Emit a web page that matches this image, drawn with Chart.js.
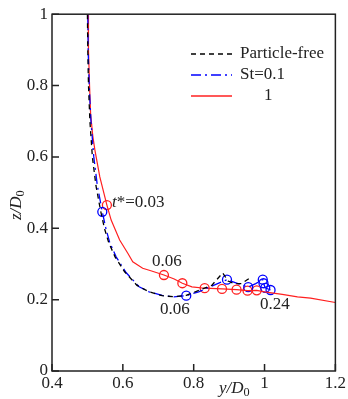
<!DOCTYPE html>
<html>
<head>
  <meta charset="UTF-8">
  <title>Trajectory</title>
  <style>
    body { margin: 0; padding: 0; background: white; }
    .chart-container { position: relative; width: 348px; height: 399px; }
  </style>
  <script src="https://cdn.jsdelivr.net/npm/chart.js"></script>
</head>
<body>
  <div class="chart-container">
    <canvas id="trajChart" width="348" height="399"></canvas>
  </div>
  <script>
    // particle-free curve
    const freeY = [0.500, 0.501, 0.503, 0.507, 0.514, 0.524, 0.537, 0.548, 0.560, 0.578, 0.605, 0.640, 0.674, 0.711, 0.744, 0.779, 0.820, 0.851, 0.882, 0.897, 0.915, 0.935, 0.950, 0.965];
    const freeZ = [1.000, 0.900, 0.800, 0.700, 0.600, 0.520, 0.450, 0.400, 0.360, 0.320, 0.278, 0.240, 0.222, 0.211, 0.208, 0.212, 0.228, 0.240, 0.275, 0.252, 0.245, 0.245, 0.255, 0.265];

    // St = 0.1
    const st01Y = [0.501, 0.502, 0.505, 0.510, 0.518, 0.528, 0.542, 0.552, 0.563, 0.581, 0.609, 0.646, 0.674, 0.711, 0.744, 0.779, 0.814, 0.851, 0.894, 0.925, 0.954, 0.975, 0.995, 0.997, 1.002, 1.017];
    const st01Z = [1.000, 0.900, 0.800, 0.700, 0.600, 0.520, 0.446, 0.400, 0.360, 0.320, 0.276, 0.236, 0.222, 0.212, 0.208, 0.211, 0.222, 0.238, 0.256, 0.245, 0.235, 0.245, 0.256, 0.246, 0.233, 0.227];
    const st01MarkY = [0.542, 0.779, 0.894, 0.954, 0.995, 0.997, 1.002, 1.017];
    const st01MarkZ = [0.446, 0.211, 0.256, 0.235, 0.256, 0.246, 0.233, 0.227];

    // St = 1
    const st1Y = [0.502, 0.503, 0.506, 0.509, 0.515, 0.521, 0.535, 0.555, 0.567, 0.591, 0.614, 0.628, 0.656, 0.679, 0.716, 0.745, 0.768, 0.795, 0.831, 0.880, 0.921, 0.952, 0.978, 1.000, 1.050, 1.093, 1.130, 1.200];
    const st1Z = [1.000, 0.900, 0.800, 0.720, 0.660, 0.620, 0.544, 0.465, 0.423, 0.367, 0.330, 0.306, 0.288, 0.281, 0.269, 0.258, 0.246, 0.236, 0.232, 0.230, 0.228, 0.225, 0.226, 0.222, 0.215, 0.208, 0.204, 0.192];
    const st1MarkY = [0.555, 0.716, 0.768, 0.831, 0.880, 0.921, 0.952, 0.978];
    const st1MarkZ = [0.465, 0.269, 0.246, 0.232, 0.230, 0.228, 0.225, 0.226];

    const xTicks = [0.4, 0.6, 0.8, 1.0, 1.2];
    const yTicks = [0, 0.2, 0.4, 0.6, 0.8, 1.0];

    const legendItems = [
      { text: 'Particle-free', color: '#000', dash: [5, 4] },
      { text: 'St=0.1', color: '#0000ff', dash: [10, 4, 2, 4] },
      { text: '1', color: '#ff2020', dash: [], indent: 24 }
    ];

    const pts = (xs, zs) => xs.map((x, i) => ({ x: x, y: zs[i] }));
    const fmt = v => String(+(+v).toFixed(1));
    const FONT = '"Liberation Serif", "Times New Roman", serif';

    // text with subscript, e.g. y/D0
    function drawSub(ctx, x, y, main, sub, size) {
      ctx.font = 'italic ' + size + 'px ' + FONT;
      ctx.textBaseline = 'middle';
      ctx.textAlign = 'left';
      ctx.fillText(main, x, y);
      const w = ctx.measureText(main).width;
      ctx.font = (size * 0.72) + 'px ' + FONT;
      ctx.fillText(sub, x + w, y + size * 0.25);
      return w + ctx.measureText(sub).width;
    }

    const decorations = {
      id: 'decorations',
      afterDraw(chart) {
        const ctx = chart.ctx;
        const a = chart.chartArea;
        const xs = chart.scales.x, ys = chart.scales.y;
        ctx.save();
        ctx.strokeStyle = '#222';
        ctx.lineWidth = 1.5;
        ctx.strokeRect(a.left, a.top, a.right - a.left, a.bottom - a.top);
        // inward ticks
        ctx.beginPath();
        xTicks.forEach(v => {
          const px = xs.getPixelForValue(v);
          ctx.moveTo(px, a.bottom); ctx.lineTo(px, a.bottom - 7);
        });
        yTicks.forEach(v => {
          const py = ys.getPixelForValue(v);
          ctx.moveTo(a.left, py); ctx.lineTo(a.left + 7, py);
        });
        ctx.stroke();

        ctx.fillStyle = '#222';
        // axis titles
        drawSub(ctx, 219, 389, 'y/D', '0', 17);
        ctx.save();
        ctx.translate(17, 200);
        ctx.rotate(-Math.PI / 2);
        drawSub(ctx, -20, 0, 'z/D', '0', 17);
        ctx.restore();

        // legend
        legendItems.forEach((it, i) => {
          const y = 54 + i * 21;
          ctx.beginPath();
          ctx.strokeStyle = it.color;
          ctx.lineWidth = 1.3;
          ctx.setLineDash(it.dash);
          ctx.moveTo(191, y); ctx.lineTo(232, y);
          ctx.stroke();
          ctx.setLineDash([]);
          ctx.font = '17px ' + FONT;
          ctx.textAlign = 'left';
          ctx.textBaseline = 'middle';
          ctx.fillStyle = '#222';
          ctx.fillText(it.text, 240 + (it.indent || 0), y);
        });

        // time labels
        ctx.font = 'italic 17px ' + FONT;
        ctx.fillText('t', 112, 203);
        const w = ctx.measureText('t').width;
        ctx.font = '17px ' + FONT;
        ctx.fillText('*=0.03', 112 + w, 203);
        ctx.fillText('0.06', 152, 262);
        ctx.fillText('0.06', 160, 310);
        ctx.fillText('0.24', 260, 305);
        ctx.restore();
      }
    };

    const ctx = document.getElementById('trajChart').getContext('2d');
    const chart = new Chart(ctx, {
      type: 'scatter',
      data: {
        datasets: [
          {
            label: 'Particle-free',
            data: pts(freeY, freeZ),
            showLine: true,
            borderColor: '#000',
            borderWidth: 1.3,
            borderDash: [5, 4],
            pointRadius: 0,
            tension: 0
          },
          {
            label: 'St=0.1',
            data: pts(st01Y, st01Z),
            showLine: true,
            borderColor: '#0000ff',
            borderWidth: 1.3,
            borderDash: [10, 4, 2, 4],
            pointRadius: 0,
            tension: 0
          },
          {
            label: '1',
            data: pts(st1Y, st1Z),
            showLine: true,
            borderColor: '#ff2020',
            borderWidth: 1.2,
            pointRadius: 0,
            tension: 0
          },
          {
            label: 'St=0.1 marks',
            data: pts(st01MarkY, st01MarkZ),
            showLine: false,
            borderColor: '#0000ff',
            backgroundColor: 'rgba(0,0,0,0)',
            borderWidth: 1.3,
            pointRadius: 4.5
          },
          {
            label: '1 marks',
            data: pts(st1MarkY, st1MarkZ),
            showLine: false,
            borderColor: '#ff2020',
            backgroundColor: 'rgba(0,0,0,0)',
            borderWidth: 1.3,
            pointRadius: 4.5
          }
        ]
      },
      options: {
        responsive: false,
        animation: false,
        maintainAspectRatio: false,
        layout: { padding: { top: 14, right: 10, left: 0, bottom: 0 } },
        scales: {
          x: {
            type: 'linear',
            min: 0.4,
            max: 1.2,
            afterBuildTicks: s => { s.ticks = xTicks.map(v => ({ value: v })); },
            afterFit: s => { s.height = 28; },
            grid: { display: false, drawTicks: false },
            border: { display: false },
            ticks: {
              callback: fmt,
              color: '#222',
              padding: 2,
              maxRotation: 0,
              font: { family: FONT, size: 17 }
            }
          },
          y: {
            min: 0,
            max: 1,
            afterBuildTicks: s => { s.ticks = yTicks.map(v => ({ value: v })); },
            afterFit: s => { s.width = 52; },
            grid: { display: false, drawTicks: false },
            border: { display: false },
            ticks: {
              callback: fmt,
              color: '#222',
              padding: 4,
              font: { family: FONT, size: 17 }
            }
          }
        },
        plugins: {
          legend: { display: false },
          tooltip: { enabled: false }
        }
      },
      plugins: [decorations]
    });
  </script>
</body>
</html>
